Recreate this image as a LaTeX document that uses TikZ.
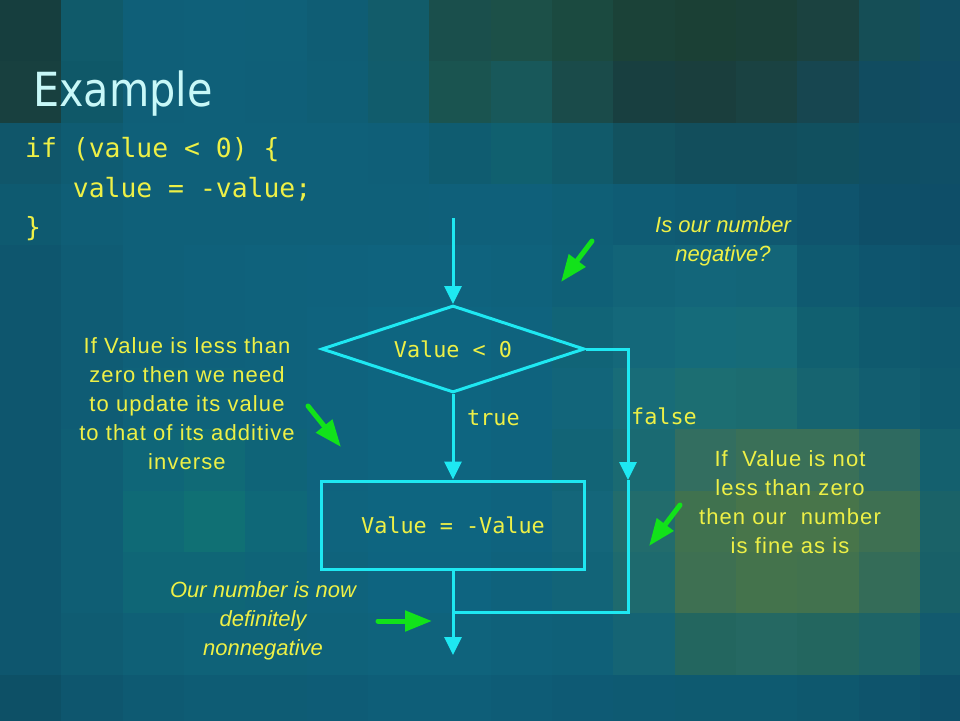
\documentclass[tikz,border=0pt]{standalone}
\usepackage{fontspec}
\setmainfont{Liberation Sans}
\newfontfamily\codefont{DejaVu Sans Mono}
\newfontfamily\titlefont[FakeStretch=0.88]{DejaVu Sans}
\newfontfamily\notefont[LetterSpace=5]{Liberation Sans}
\usetikzlibrary{arrows.meta,shapes.geometric}
\definecolor{cyanl}{HTML}{1EE8F2}
\definecolor{greenl}{HTML}{12E21A}
\definecolor{yel}{HTML}{EEF046}
\definecolor{titlec}{HTML}{C8F8F8}
\tikzset{
  flow/.style={draw=cyanl, line width=3pt, -{Triangle[length=18pt,width=17pt]}},
  plain/.style={draw=cyanl, line width=3pt},
  pointer/.style={draw=greenl, line width=5pt, line cap=round, -{Triangle[length=27pt,width=20pt]}},
  codetxt/.style={font=\codefont\fontsize{26.4}{39}\selectfont, text=yel, inner sep=0pt, anchor=base west},
  labeltxt/.style={font=\codefont\fontsize{21.8}{26}\selectfont, text=yel},
  note/.style={font=\notefont\fontsize{22}{29}\selectfont, text=yel, inner sep=0pt, anchor=base},
  inote/.style={font=\itshape\fontsize{22}{29}\selectfont, text=yel, inner sep=0pt, anchor=base},
  decision/.style={shape=diamond, aspect=3, draw=cyanl, line width=3pt, minimum width=263pt, minimum height=87pt, inner sep=0pt, labeltxt},
  actionbox/.style={shape=rectangle, draw=cyanl, line width=3pt, minimum width=263pt, minimum height=88pt, inner sep=0pt, labeltxt}
}
\begin{document}
\begin{tikzpicture}[x=1pt,y=-1pt]
\useasboundingbox (0,0) rectangle (960,720);
\begin{scope}
\clip (0,0) rectangle (960,720);
\foreach \row [count=\r from 0] in {
{163E3E,105A6A,0F5F78,0F6079,0F6078,0F5D74,125C6A,1A4F4C,1C5048,1B4A40,1B4238,1B4035,1B4038,1B4240,154E56,114E62},
{18403F,0F5868,0F5F78,0F6079,0F5F78,0F5E75,115C6C,1A5450,18585A,1A4B4A,183F40,1A3E3D,1A4242,174650,114C60,104C65},
{10566A,0F5C72,0F6079,0F6079,0F6079,0F6079,0F5F78,0F5C70,10606F,115A6A,12525F,124E5C,124E5C,11505F,0F4F64,0F4F66},
{0E5A70,0F5E76,0F6079,0F6079,0F6079,0F6079,0F6079,0F607A,0F607A,0F5F76,0F5C74,0F5A72,105870,0F546D,0E4F68,0E4E68},
{0E566E,0F5C74,0F6079,0F617B,0F627C,0F627D,0F637E,0F637E,0F627C,0F6077,126478,13667A,136578,0F5A70,0E556E,0E536C},
{0E566E,0F5C74,0F6079,0F617B,0F627C,0F637E,0E6580,0E6580,0F637E,116477,14687A,156B7A,166B78,116070,0F5A6E,0F586E},
{0E566E,0F5C74,0F6279,0F637A,0F627C,0F637E,0E6580,0E6580,0F637E,12657A,186C78,1C6E72,1C6C70,166470,125E70,105A6E},
{0E566E,0F5E74,0F6678,106A76,0F6478,0F637E,0E6580,0E6580,0F637E,126476,1A6A72,336E60,3A7058,3A7058,2E6A60,14606E},
{0E566E,0F5E74,0F6A76,107074,0F6878,0F647E,0E6580,0E6580,0F637E,14667A,226C6C,40724F,48754A,48754A,3E7052,1A6268},
{0E566E,0F5E74,0F6676,0F6676,0F6478,0F637C,0E6480,0E6480,0F627C,126478,1E6A6E,3E7052,44734C,42724E,346C58,186068},
{0E566E,0F5C72,0F6076,0F6278,0F6278,0F627A,0F637C,0F637C,0F617A,0F6078,156474,23665F,256862,23665F,1E6466,125A6E},
{0D5066,0E566E,0E5A72,0E5C74,0E5C74,0E5C76,0E5E78,0E5E78,0E5C76,0E5A74,0E5A72,0E5A70,0E5A70,0E586E,0E546C,0E506A}}{
  \foreach \h [count=\c from 0] in \row {
    \definecolor{cellc}{HTML}{\h}
    \fill[cellc] ({\c*61.33},{\r*61.33}) rectangle ++(61.6,61.6);
  }
}
\end{scope}

% title and code
\node[anchor=base west, font=\titlefont\fontsize{47}{50}\selectfont, text=titlec, inner sep=0pt] (title) at (33,106) {Example};
\node[codetxt] (code1) at (25,157) {if (value < 0) \{};
\node[codetxt] (code2) at (25,197) {\ \ \ value = -value;};
\node[codetxt] (code3) at (25,236) {\}};

% flowchart
\coordinate (start) at (453,218);
\node[decision] (dec) at (453,349) {Value < 0};
\node[actionbox] (act) at (453,525) {Value = -Value};
\coordinate (fturn) at (628,349);
\coordinate (farrow) at (628,480);
\coordinate (fcorner) at (628,612);
\coordinate (join) at (453,612);
\coordinate (finish) at (453,655);

\draw[flow] (start) -- (dec.north);
\draw[flow] (dec.south) -- (act.north);
\draw[flow] (dec.east) -- (fturn) -- (farrow);
\draw[plain] (farrow) -- (fcorner) -- (join);
\draw[flow] (act.south) -- (finish);

\node[labeltxt, anchor=base west, inner sep=0pt] (ltrue) at (467,425) {true};
\node[labeltxt, anchor=base west, inner sep=0pt] (lfalse) at (631,424) {false};

% notes
\foreach \t [count=\i from 0] in {Is our number, negative?}
  \node[inote] (topnote\i) at (723,{232+29*\i}) {\t};
\foreach \t [count=\i from 0] in {If Value is less than, zero then we need, to update its value, to that of its additive, inverse}
  \node[note] (leftnote\i) at (187,{353+29*\i}) {\t};
\foreach \t [count=\i from 0] in {If\ \ Value is not, less than zero, then our\ \ number, is fine as is}
  \node[note] (rightnote\i) at (790,{466+29*\i}) {\t};
\foreach \t [count=\i from 0] in {Our number is now, definitely, nonnegative}
  \node[inote] (botnote\i) at (263,{597+29*\i}) {\t};

% green pointers
\coordinate (p1s) at (592,241);
\coordinate (p1e) at (561,282);
\coordinate (p2s) at (308,406);
\coordinate (p2e) at (341,447);
\coordinate (p3s) at (680,505);
\coordinate (p3e) at (649,546);
\coordinate (p4s) at (378,621);
\coordinate (p4e) at (432,621);
\draw[pointer] (p1s) -- (p1e);
\draw[pointer] (p2s) -- (p2e);
\draw[pointer] (p3s) -- (p3e);
\draw[pointer] (p4s) -- (p4e);
\end{tikzpicture}
\end{document}
